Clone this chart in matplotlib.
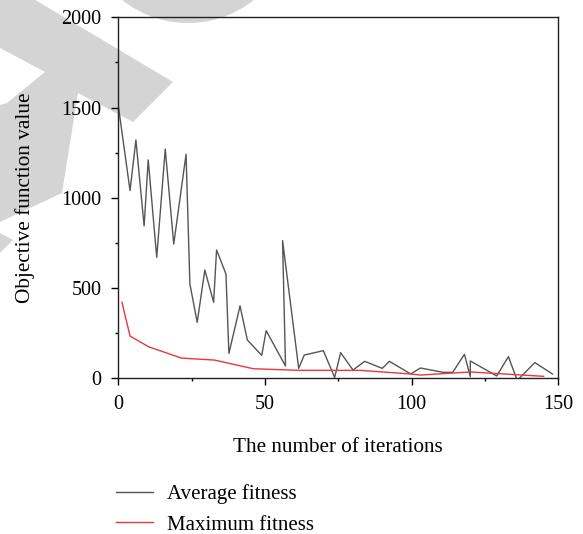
import matplotlib
matplotlib.use("Agg")
import matplotlib.pyplot as plt
from matplotlib.patches import Polygon, Circle
from matplotlib.transforms import IdentityTransform
from matplotlib.ticker import MultipleLocator

# ---- data ----
avg_x = [0, 4, 6, 8.8, 10.2, 13.1, 16, 18.9, 23.1, 24.4, 26.9, 29.5, 32.5, 33.5,
         36.7, 37.7, 41.5, 44, 48.9, 50.4, 57, 56, 61.5, 63.4, 69.9, 73.75, 75.8,
         80, 84, 90, 92.4, 99.7, 103, 110.8, 114, 118, 120, 120, 129, 133, 136,
         142, 148]
avg_y = [1510, 1040, 1320, 844, 1210, 670, 1270, 744, 1241, 523, 310, 600, 421,
         711, 578, 138, 401, 212, 127, 264, 68, 763, 55, 129, 153, 5, 142, 46, 94,
         55, 94, 24, 57, 33, 33, 133, 9, 96, 13, 120, -12, 87, 24]
max_x = [1.25, 4, 10.3, 21.5, 32.8, 46, 62, 82.4, 99.7, 103, 120, 145]
max_y = [421, 234, 175, 112, 101, 53, 44, 44, 24, 18, 35, 11]

series_labels = ["Average fitness", "Maximum fitness"]
x_label = "The number of iterations"
y_label = "Objective function value"
x_ticks = [0, 50, 100, 150]
y_ticks = [0, 500, 1000, 1500, 2000]

W, H = 583, 534
plt.rcParams['font.family'] = ['Liberation Serif', 'DejaVu Serif']
plt.rcParams['font.size'] = 14.5

fig = plt.figure(figsize=(W / 100, H / 100), dpi=100)

# ---- background watermark (light gray shapes), pixel coords from top-left ----
def px(pts):
    return [(x, H - y) for x, y in pts]

wm = '#d4d4d4'
idt = IdentityTransform()
fig.patches.append(Circle((188, H + 83), 106, transform=idt,
                          facecolor=wm, edgecolor='none', zorder=-1))
fig.patches.append(Polygon(px([(0, -2), (32, -2), (173, 82), (133, 122), (78, 93),
                               (62, 193), (0, 222), (0, 105), (7, 103), (45, 72),
                               (0, 48)]),
                           closed=True, transform=idt,
                           facecolor=wm, edgecolor='none', zorder=-1))
fig.patches.append(Polygon(px([(0, 233), (13, 240), (0, 253)]), closed=True,
                           transform=idt, facecolor=wm,
                           edgecolor='none', zorder=-1))

ax = fig.add_axes([118.3 / W, 1 - 378.3 / H, 440 / W, 361 / H])
ax.set_facecolor('none')

ax.plot(avg_x, avg_y, color='#555555', lw=1.0, label=series_labels[0])
ax.plot(max_x, max_y, color='#e8383b', lw=1.0, label=series_labels[1])

ax.set_xlim(0, 150)
ax.set_ylim(0, 2000)
ax.set_xticks(x_ticks)
ax.set_yticks(y_ticks)
ax.xaxis.set_minor_locator(MultipleLocator(25))
ax.yaxis.set_minor_locator(MultipleLocator(250))
ax.tick_params(which='major', direction='out', length=5, width=1.0, pad=7,
               labelsize=14.5, top=False, right=False)
ax.tick_params(which='minor', direction='out', length=2.5, width=1.0,
               top=False, right=False)
for s in ax.spines.values():
    s.set_linewidth(1.0)
    s.set_color('#222222')

fig.text(338 / W, 1 - 448 / H, x_label, ha='center', va='center', fontsize=15.2)
fig.text(25 / W, 1 - 198 / H, y_label, ha='center', va='center', rotation=90,
         fontsize=15.3)

leg = fig.legend(loc='upper left', bbox_to_anchor=(108 / W, 1 - 476 / H),
                 frameon=False, fontsize=15, handlelength=1.75,
                 handletextpad=0.68, labelspacing=0.52, borderaxespad=0)

fig.savefig("out.png", dpi=100)
